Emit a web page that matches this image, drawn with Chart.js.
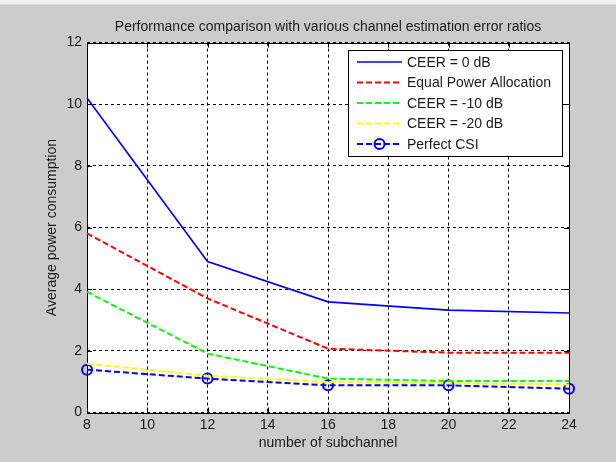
<!DOCTYPE html>
<html>
<head>
<meta charset="utf-8">
<script src="https://cdn.jsdelivr.net/npm/chart.js@4.4.0/dist/chart.umd.min.js"></script>
<style>
html,body{margin:0;padding:0;background:#cccccc;}
#wrap{position:relative;width:616px;height:462px;}
#strip{position:absolute;left:0;top:0;width:616px;height:4px;background:#f0f0f0;border-bottom:1px solid #e0e0e0;}
canvas{position:absolute;left:0;top:0;}
</style>
</head>
<body>
<div id="wrap"><canvas id="c" width="616" height="462"></canvas><div id="strip"></div></div>
<script>
const subchannels = [8, 12, 16, 20, 24];
const ceer0 = [10.2, 4.9, 3.59, 3.32, 3.23];
const equalPower = [5.81, 3.70, 2.07, 1.94, 1.94];
const ceer10 = [3.91, 1.91, 1.10, 1.02, 1.02];
const ceer20 = [1.58, 1.19, 0.99, 0.95, 0.91];
const perfectCSI = [1.39, 1.10, 0.88, 0.88, 0.77];
const seriesLabels = ['CEER = 0 dB', 'Equal Power Allocation', 'CEER = -10 dB', 'CEER = -20 dB', 'Perfect CSI'];
const xTicks = [8, 10, 12, 14, 16, 18, 20, 22, 24];
const yTicks = [0, 2, 4, 6, 8, 10, 12];

const FONT = "'Liberation Sans', Arial, sans-serif";
const TXT = '#1a1a1a';
const pts = arr => arr.map((v, i) => ({x: subchannels[i], y: v}));

const datasets = [
  {label: seriesLabels[0], data: pts(ceer0), borderColor: '#0000ff', borderWidth: 1.6, borderDash: [], pointRadius: 0},
  {label: seriesLabels[1], data: pts(equalPower), borderColor: '#ff0000', borderWidth: 2, borderDash: [6, 3], pointRadius: 0},
  {label: seriesLabels[2], data: pts(ceer10), borderColor: '#00ff00', borderWidth: 2, borderDash: [6, 3], pointRadius: 0},
  {label: seriesLabels[3], data: pts(ceer20), borderColor: '#ffff00', borderWidth: 2, borderDash: [6, 3], pointRadius: 0},
  {label: seriesLabels[4], data: pts(perfectCSI), borderColor: '#0000ff', borderWidth: 2, borderDash: [6, 3],
   pointRadius: 5, pointStyle: 'circle', pointBorderColor: '#0000ff', pointBackgroundColor: 'rgba(0,0,0,0)', pointBorderWidth: 2}
].map(d => Object.assign({fill: false, tension: 0, clip: false}, d));

const framePlugin = {
  id: 'frame',
  beforeDraw(chart) {
    const ctx = chart.ctx, a = chart.chartArea;
    ctx.save();
    ctx.fillStyle = '#cccccc';
    ctx.fillRect(0, 0, chart.width, chart.height);
    ctx.fillStyle = '#ffffff';
    ctx.fillRect(a.left, a.top, a.right - a.left, a.bottom - a.top);
    ctx.restore();
  },
  beforeDatasetsDraw(chart) {
    const ctx = chart.ctx, a = chart.chartArea;
    const xs = chart.scales.x, ys = chart.scales.y;
    ctx.save();
    ctx.strokeStyle = '#000';
    ctx.lineWidth = 1;
    ctx.setLineDash([]);
    ctx.beginPath();
    xs.ticks.forEach(t => {
      const px = Math.round(xs.getPixelForValue(t.value)) + 0.5;
      ctx.moveTo(px, a.bottom); ctx.lineTo(px, a.bottom - 5);
      ctx.moveTo(px, a.top); ctx.lineTo(px, a.top + 5);
    });
    ys.ticks.forEach(t => {
      const py = Math.round(ys.getPixelForValue(t.value)) + 0.5;
      ctx.moveTo(a.left, py); ctx.lineTo(a.left + 5, py);
      ctx.moveTo(a.right, py); ctx.lineTo(a.right - 5, py);
    });
    ctx.stroke();
    ctx.strokeRect(Math.round(a.left) + 0.5, Math.round(a.top) + 0.5, Math.round(a.right - a.left), Math.round(a.bottom - a.top));
    ctx.restore();
  },
  afterDraw(chart) {
    const ctx = chart.ctx;
    const bx = 348, by = 50, bw = 214, bh = 106;
    ctx.save();
    ctx.fillStyle = '#ffffff';
    ctx.fillRect(bx, by, bw, bh);
    ctx.strokeStyle = '#000';
    ctx.lineWidth = 1;
    ctx.setLineDash([]);
    ctx.strokeRect(bx + 0.5, by + 0.5, bw, bh);
    ctx.font = '14px ' + FONT;
    ctx.textBaseline = 'middle';
    ctx.textAlign = 'left';
    chart.data.datasets.forEach((d, i) => {
      const y = 62 + i * 20.5;
      ctx.strokeStyle = d.borderColor;
      ctx.lineWidth = d.borderWidth;
      ctx.setLineDash(d.borderDash || []);
      ctx.beginPath();
      ctx.moveTo(357, y); ctx.lineTo(402, y);
      ctx.stroke();
      if (d.pointRadius > 0) {
        ctx.setLineDash([]);
        ctx.lineWidth = d.pointBorderWidth;
        ctx.beginPath();
        ctx.arc(379.5, y, d.pointRadius, 0, Math.PI * 2);
        ctx.stroke();
      }
      ctx.fillStyle = TXT;
      ctx.fillText(d.label, 407, y + 1);
    });
    ctx.restore();
  }
};

new Chart(document.getElementById('c'), {
  type: 'line',
  data: {datasets},
  options: {
    responsive: false,
    animation: false,
    devicePixelRatio: 1,
    layout: {padding: {left: 0, right: 47, top: 0, bottom: 0}},
    plugins: {
      legend: {display: false},
      tooltip: {enabled: false},
      title: {
        display: true,
        fullSize: false,
        text: 'Performance comparison with various channel estimation error ratios',
        color: TXT,
        font: {family: FONT, size: 14, weight: 'normal', lineHeight: 1.2},
        padding: {top: 18.6, bottom: 7.2}
      }
    },
    scales: {
      x: {
        type: 'linear', min: 8, max: 24,
        afterBuildTicks: s => { s.ticks = xTicks.map(v => ({value: v})); },
        afterFit: s => { s.height = 49.5; },
        ticks: {color: TXT, font: {family: FONT, size: 14}, padding: 4, maxRotation: 0, autoSkip: false},
        grid: {color: '#000', lineWidth: 1, drawTicks: false},
        border: {display: false, dash: [3, 3]},
        title: {display: true, text: 'number of subchannel', color: TXT,
          font: {family: FONT, size: 14, lineHeight: 1.2}, padding: {top: 0, bottom: 10.6}}
      },
      y: {
        type: 'linear', min: 0, max: 12,
        afterBuildTicks: s => { s.ticks = yTicks.map(v => ({value: v})); },
        afterFit: s => { s.width = 87; },
        ticks: {color: TXT, font: {family: FONT, size: 14}, padding: 5},
        grid: {color: '#000', lineWidth: 1, drawTicks: false},
        border: {display: false, dash: [3, 3]},
        title: {display: true, text: 'Average power consumption', color: TXT,
          font: {family: FONT, size: 14, lineHeight: 1.2}, padding: {top: 43.6, bottom: 0}}
      }
    }
  },
  plugins: [framePlugin]
});
</script>
</body>
</html>
